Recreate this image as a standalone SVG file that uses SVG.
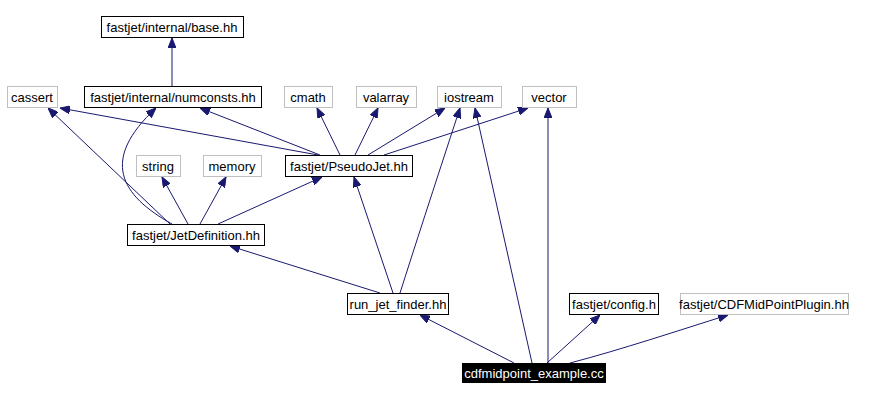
<svg xmlns="http://www.w3.org/2000/svg" width="893" height="401" viewBox="0 0 893 401">
<style>
text{font-family:"Liberation Sans",Arial,sans-serif;font-size:13px;text-anchor:middle;fill:#000}
.b{fill:#fff;stroke:#000;stroke-width:1}
.g{fill:#fff;stroke:#bfbfbf;stroke-width:1}
#edges path{fill:none;stroke:#191970;stroke-width:1;marker-end:url(#a)}
</style>
<defs><marker id="a" viewBox="0 0 10 8" refX="10" refY="4" markerWidth="10" markerHeight="8" markerUnits="userSpaceOnUse" orient="auto"><path d="M0,0L10,4L0,8z" fill="#191970" stroke="#191970"/></marker></defs>
<rect width="893" height="401" fill="#fff"/>
<g id="edges">
<path d="M172,86L172,38"/>
<path d="M318,155L60,108"/>
<path d="M320,155L200,108"/>
<path d="M340,155L317,108"/>
<path d="M355,155L378,108"/>
<path d="M368,155L445,108"/>
<path d="M384,155L528,108"/>
<path d="M170,224L48,108"/>
<path d="M172,224C120,195 100,160 156,108"/>
<path d="M188,224L162,177"/>
<path d="M200,224L226,177"/>
<path d="M218,224L322,177"/>
<path d="M380,293L230,246"/>
<path d="M393,293L354,177"/>
<path d="M400,293Q420,230 460,108"/>
<path d="M514,363L420,315"/>
<path d="M532,363L475,108"/>
<path d="M548,363L548,108"/>
<path d="M547,363L600,315"/>
<path d="M570,363C620,350 680,330 728,315"/>
</g>
<g id="base"><rect class="b" x="101.5" y="16.5" width="142" height="21"/><text x="172" y="31.5">fastjet/internal/base.hh</text></g>
<g id="cassert"><rect class="g" x="7.5" y="86.5" width="50" height="21"/><text x="32" y="101.5">cassert</text></g>
<g id="numconsts"><rect class="b" x="84.5" y="86.5" width="177" height="21"/><text x="173" y="101.5">fastjet/internal/numconsts.hh</text></g>
<g id="cmath"><rect class="g" x="284.5" y="86.5" width="48" height="21"/><text x="308" y="101.5">cmath</text></g>
<g id="valarray"><rect class="g" x="356.5" y="86.5" width="60" height="21"/><text x="386" y="101.5">valarray</text></g>
<g id="iostream"><rect class="g" x="437.5" y="86.5" width="64" height="21"/><text x="469" y="101.5">iostream</text></g>
<g id="vector"><rect class="g" x="522.5" y="86.5" width="54" height="21"/><text x="549" y="101.5">vector</text></g>
<g id="string"><rect class="g" x="136.5" y="155.5" width="44" height="21"/><text x="158" y="170.5">string</text></g>
<g id="memory"><rect class="g" x="203.5" y="155.5" width="58" height="21"/><text x="232" y="170.5">memory</text></g>
<g id="pseudojet"><rect class="b" x="285.5" y="155.5" width="127" height="21"/><text x="349" y="170.5">fastjet/PseudoJet.hh</text></g>
<g id="jetdef"><rect class="b" x="127.5" y="224.5" width="137" height="21"/><text x="196" y="239.5">fastjet/JetDefinition.hh</text></g>
<g id="runjet"><rect class="b" x="347.5" y="293.5" width="101" height="21"/><text x="398" y="308.5">run_jet_finder.hh</text></g>
<g id="config"><rect class="b" x="569.5" y="293.5" width="89" height="21"/><text x="614" y="308.5">fastjet/config.h</text></g>
<g id="cdfplugin"><rect class="g" x="680.5" y="293.5" width="168" height="21"/><text x="764" y="308.5">fastjet/CDFMidPointPlugin.hh</text></g>
<g id="main"><rect x="462" y="363" width="144" height="20" fill="#000"/><text x="534" y="377.5" style="fill:#fff">cdfmidpoint_example.cc</text></g>
</svg>
